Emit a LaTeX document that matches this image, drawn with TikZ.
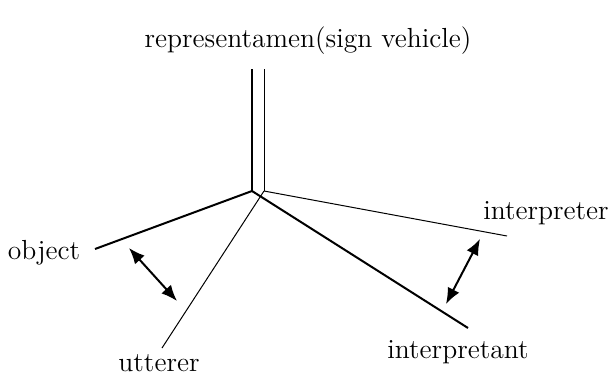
\documentclass[tikz,border=0pt]{standalone}
\usetikzlibrary{arrows.meta}
\begin{document}
\begin{tikzpicture}[x=0.5pt,y=-0.5pt,
  thickln/.style={line width=1pt},
  thinln/.style={line width=0.5pt},
  dbl/.style={line width=1pt,{Latex[length=8pt,width=6.5pt]}-{Latex[length=8pt,width=6.5pt]}},
  lbl/.style={inner sep=0pt,font=\fontsize{13.8}{16}\selectfont}]
\useasboundingbox (0,0) rectangle (615,375);
% labels
\node[lbl] (rep) at (308,41) {representamen(sign vehicle)};
\node[lbl] (obj) at (44,253) {object};
\node[lbl] (utt) at (159,363) {utterer};
\node[lbl] (intr) at (546,213) {interpreter};
\node[lbl] (inta) at (458,352) {interpretant};
% points
\coordinate (c1) at (252,191);
\coordinate (c2) at (264,191);
\coordinate (t1) at (252,69);
\coordinate (t2) at (264,69);
\coordinate (oe) at (95,249);
\coordinate (ue) at (162,348);
\coordinate (ire) at (507,236);
\coordinate (iae) at (468,328);
\coordinate (a1s) at (129,248);
\coordinate (a1e) at (177,301);
\coordinate (a2s) at (480,239);
\coordinate (a2e) at (446,304);
% lines
\draw[thickln] (t1) -- (c1);
\draw[thinln] (t2) -- (c2);
\draw[thickln] (oe) -- (c1) -- (iae);
\draw[thinln] (c2) -- (ire);
\draw[thinln] (c2) -- (ue);
\draw[dbl] (a1s) -- (a1e);
\draw[dbl] (a2s) -- (a2e);
\end{tikzpicture}
\end{document}
